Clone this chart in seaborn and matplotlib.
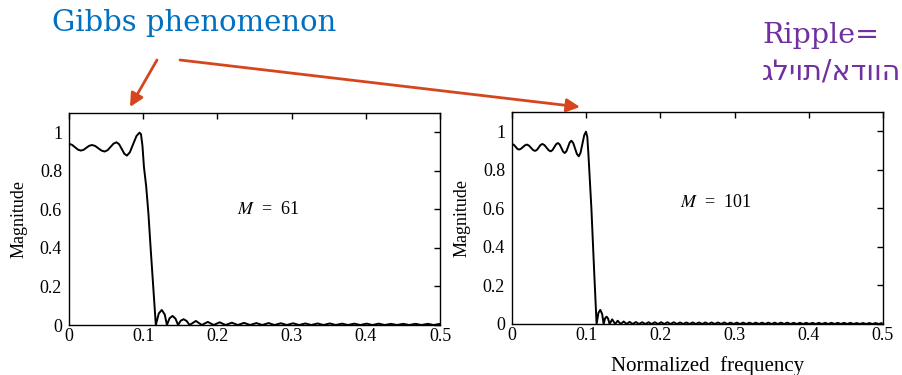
import matplotlib
matplotlib.use("Agg")
import matplotlib.pyplot as plt
import seaborn as sns
import pandas as pd

# ---- data (normalized frequency, magnitude) ----

# M = 61 : passband ripple and the fall of the edge
f61_pass = [0.000, 0.004, 0.008, 0.012, 0.016, 0.0198, 0.0235, 0.0273, 0.031,
            0.0353, 0.0395, 0.0438, 0.048, 0.052, 0.056, 0.060, 0.064,
            0.0675, 0.071, 0.0745, 0.078, 0.082, 0.0865, 0.091, 0.095,
            0.097, 0.099, 0.101, 0.104, 0.107, 0.110, 0.1135]
m61_pass = [0.940, 0.935, 0.923, 0.910, 0.905, 0.909, 0.920, 0.930, 0.934,
            0.929, 0.917, 0.905, 0.900, 0.907, 0.924, 0.941, 0.948,
            0.938, 0.914, 0.889, 0.879, 0.896, 0.939, 0.981, 0.998,
            0.990, 0.930, 0.820, 0.720, 0.580, 0.400, 0.200]

# M = 61 : stopband lobes (peaks, zero touches, shoulders of the first lobes)
f61_peak = [0.125, 0.1395, 0.1545, 0.171, 0.187, 0.203, 0.2195, 0.236, 0.2525,
            0.269, 0.2855, 0.302, 0.3185, 0.335, 0.3515, 0.368, 0.3845, 0.401,
            0.4175, 0.434, 0.4505, 0.467, 0.4835, 0.500]
m61_peak = [0.078, 0.047, 0.030, 0.021, 0.016, 0.014, 0.012, 0.011, 0.010,
            0.010, 0.009, 0.009, 0.008, 0.008, 0.008, 0.007, 0.007, 0.007,
            0.007, 0.006, 0.006, 0.006, 0.006, 0.006]
f61_zero = [0.117, 0.132, 0.147, 0.1625, 0.179, 0.195, 0.211, 0.2275, 0.244,
            0.2605, 0.277, 0.2935, 0.310, 0.3265, 0.343, 0.3595, 0.376, 0.3925,
            0.409, 0.4255, 0.442, 0.4585, 0.475, 0.4915]
f61_side = [0.121, 0.129, 0.1355, 0.1435, 0.1505, 0.1585]
m61_side = [0.060, 0.055, 0.035, 0.033, 0.022, 0.021]

# M = 101 : passband ripple and the fall of the edge
f101_pass = [0.000, 0.0024, 0.0048, 0.0071, 0.0095, 0.012, 0.0148, 0.0174, 0.020,
             0.0228, 0.0255, 0.0283, 0.031, 0.0335, 0.036, 0.0385, 0.041,
             0.0438, 0.0465, 0.0493, 0.052, 0.0545, 0.057, 0.0595, 0.062,
             0.0643, 0.0665, 0.0688, 0.071, 0.0733, 0.0755, 0.0778, 0.080,
             0.0825, 0.085, 0.0875, 0.090, 0.0924, 0.0949, 0.0973, 0.0997,
             0.1015, 0.103, 0.105, 0.107, 0.109, 0.111, 0.1125]
m101_pass = [0.934, 0.930, 0.920, 0.909, 0.905, 0.909, 0.918, 0.927, 0.931,
             0.926, 0.915, 0.903, 0.898, 0.903, 0.916, 0.929, 0.934,
             0.928, 0.915, 0.902, 0.896, 0.902, 0.918, 0.933, 0.939,
             0.931, 0.913, 0.895, 0.887, 0.896, 0.919, 0.942, 0.951,
             0.939, 0.911, 0.882, 0.870, 0.889, 0.934, 0.979, 0.998,
             0.970, 0.880, 0.740, 0.600, 0.420, 0.250, 0.120]

# M = 101 : stopband lobes
f101_peak = [0.119, 0.1275, 0.135, 0.1425, 0.1505, 0.1585, 0.167,
             0.1755, 0.184, 0.1925, 0.201, 0.2095, 0.218, 0.2265, 0.235,
             0.2435, 0.252, 0.2605, 0.269, 0.2775, 0.286, 0.2945, 0.303,
             0.3115, 0.320, 0.3285, 0.337, 0.3455, 0.354, 0.3625, 0.371,
             0.3795, 0.388, 0.3965, 0.405, 0.4135, 0.422, 0.4305, 0.439,
             0.4475, 0.456, 0.4645, 0.473, 0.4815, 0.490, 0.4985]
m101_peak = [0.073, 0.038, 0.024, 0.017, 0.013, 0.011, 0.010,
             0.009, 0.009, 0.009, 0.009, 0.009, 0.009,
             0.008, 0.008, 0.008, 0.008, 0.008, 0.008, 0.008, 0.008,
             0.007, 0.007, 0.007, 0.007, 0.007, 0.007, 0.007, 0.007, 0.007, 0.007,
             0.006, 0.006, 0.006, 0.006, 0.006, 0.006, 0.006, 0.006, 0.006, 0.006,
             0.005, 0.005, 0.005, 0.005, 0.005]
f101_zero = [0.114, 0.1235, 0.1315, 0.139, 0.1465, 0.1545, 0.1625, 0.171,
             0.1798, 0.1883, 0.1968, 0.2053, 0.2138, 0.2223, 0.2308, 0.2393,
             0.2478, 0.2563, 0.2648, 0.2733, 0.2818, 0.2903, 0.2988, 0.3073,
             0.3158, 0.3243, 0.3328, 0.3413, 0.3498, 0.3583, 0.3668, 0.3753,
             0.3838, 0.3923, 0.4008, 0.4093, 0.4178, 0.4263, 0.4348, 0.4433,
             0.4518, 0.4603, 0.4688, 0.4773, 0.4858, 0.4943]
f101_side = [0.1165, 0.1215, 0.1255, 0.1295]
m101_side = [0.058, 0.052, 0.030, 0.028]

x_ticks = [0, 0.1, 0.2, 0.3, 0.4, 0.5]
x_labels = ["0", "0.1", "0.2", "0.3", "0.4", "0.5"]
y_ticks = [0, 0.2, 0.4, 0.6, 0.8, 1.0]
y_labels = ["0", "0.2", "0.4", "0.6", "0.8", "1"]


def buildCurve(fp, mp, fk, mk, fz, fs, ms):
    """
    joins the read pieces of one response into a single sorted frame
    """
    parts = [pd.DataFrame({'freq': fp, 'mag': mp}),
             pd.DataFrame({'freq': fk, 'mag': mk}),
             pd.DataFrame({'freq': fz, 'mag': [0.0] * len(fz)}),
             pd.DataFrame({'freq': fs, 'mag': ms})]
    return pd.concat(parts).sort_values('freq').reset_index(drop=True)


curve61 = buildCurve(f61_pass, m61_pass, f61_peak, m61_peak, f61_zero, f61_side, m61_side)
curve101 = buildCurve(f101_pass, m101_pass, f101_peak, m101_peak, f101_zero, f101_side, m101_side)

sns.set_theme(style="white")
plt.rcParams['font.family'] = ['Liberation Serif', 'DejaVu Sans']
plt.rcParams['mathtext.fontset'] = 'stix'

W, H = 902, 375
fig = plt.figure(figsize=(W / 100, H / 100), dpi=100)
ax1 = fig.add_axes([69 / W, 50 / H, 371 / W, 212 / H])
ax2 = fig.add_axes([512 / W, 51 / H, 371 / W, 212 / H])

for ax, curve, label in [(ax1, curve61, "$M$  =  61"), (ax2, curve101, "$M$  =  101")]:
    sns.lineplot(data=curve, x='freq', y='mag', ax=ax, color='black',
                 linewidth=1.4, estimator=None, sort=True)
    ax.set_xlim(0, 0.5)
    ax.set_ylim(0, 1.1)
    ax.set_xticks(x_ticks)
    ax.set_xticklabels(x_labels)
    ax.set_yticks(y_ticks)
    ax.set_yticklabels(y_labels)
    ax.tick_params(direction='in', top=True, right=True, length=4, width=1,
                   labelsize=13, colors='black')
    ax.tick_params(axis='x', pad=2)
    ax.tick_params(axis='y', pad=5)
    for sp in ax.spines.values():
        sp.set_color('black')
        sp.set_linewidth(1.0)
    ax.set_ylabel('Magnitude', fontsize=13, color='black', labelpad=9)
    ax.set_xlabel('')
    ax.text(0.227, 0.60 if ax is ax1 else 0.63, label, fontsize=13,
            ha='left', va='center', color='black')

fig.text(708 / W, 1 - 366 / H, 'Normalized  frequency', fontsize=15,
         ha='center', va='center', color='black')

# slide annotations
fig.text(52 / W, 1 - 31 / H, 'Gibbs phenomenon', fontsize=21, family='DejaVu Serif',
         color='#0070C0', ha='left', va='baseline')
fig.text(762 / W, 1 - 43 / H, 'Ripple=', fontsize=20.5, family='DejaVu Serif',
         color='#7030A0', ha='left', va='baseline')
fig.text(762 / W, 1 - 79 / H, 'גליות/אדווה', fontsize=20.5, family='DejaVu Sans',
         color='#7030A0', ha='left', va='baseline')

arrowColor = '#D5461E'
for tail, head in [((157, 60), (130, 107)), ((180, 60), (580, 107))]:
    fig.add_artist(matplotlib.patches.FancyArrowPatch(
        (tail[0] / W, 1 - tail[1] / H), (head[0] / W, 1 - head[1] / H),
        transform=fig.transFigure, arrowstyle='-|>', mutation_scale=20,
        color=arrowColor, linewidth=2, shrinkA=0, shrinkB=0))

fig.savefig('out.png', dpi=100)
